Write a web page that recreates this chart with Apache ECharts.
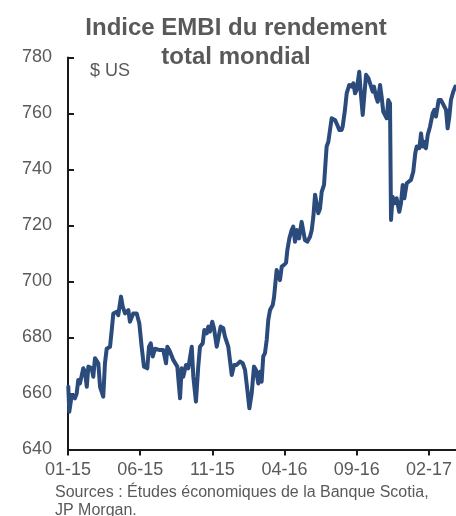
<!DOCTYPE html>
<html>
<head>
<meta charset="utf-8">
<script src="https://cdn.jsdelivr.net/npm/echarts@6/dist/echarts.min.js"></script>
<style>
html,body{margin:0;padding:0;background:#fff;}
#chart{width:456px;height:516px;}
</style>
</head>
<body>
<div id="chart"></div>
<script>
// x: months elapsed since January 2015 (0 = 01-15)
const months = [0.02,0.09,0.26,0.48,0.60,0.71,0.83,1.06,1.18,1.30,1.41,1.64,1.75,1.87,1.99,2.10,2.22,2.44,2.56,2.68,2.91,3.03,3.14,3.37,3.48,3.67,3.79,3.95,4.18,4.29,4.52,4.76,4.94,5.10,5.26,5.49,5.61,5.73,5.87,6.02,6.37,6.60,6.79,6.88,7.06,7.29,7.41,7.57,7.76,7.87,7.98,8.17,8.33,8.57,8.68,8.86,9.02,9.14,9.33,9.44,9.61,9.72,9.83,9.99,10.11,10.30,10.41,10.57,10.75,10.87,11.10,11.34,11.50,11.68,11.91,12.10,12.26,12.42,12.56,12.72,12.88,13.02,13.18,13.30,13.41,13.52,13.64,13.76,13.87,13.99,14.18,14.27,14.40,14.45,14.56,14.68,14.80,14.96,15.10,15.19,15.33,15.49,15.60,15.72,15.84,16.00,16.18,16.30,16.41,16.57,16.76,16.88,16.99,17.11,17.22,17.33,17.45,17.57,17.73,17.91,18.03,18.14,18.26,18.49,18.65,18.79,18.95,19.02,19.18,19.30,19.48,19.65,19.76,19.88,19.99,20.10,20.17,20.27,20.41,20.50,20.64,20.80,20.91,21.10,21.19,21.33,21.45,21.61,21.72,21.83,21.95,22.07,22.18,22.30,22.37,22.48,22.59,22.76,22.94,23.06,23.18,23.29,23.46,23.59,23.75,23.91,24.05,24.15,24.33,24.45,24.56,24.67,24.79,24.91,25.07,25.26,25.37,25.48,25.67,25.83,25.95,26.06,26.18,26.29,26.41,26.52,26.68,26.82];
const values = [662.4,653.5,659.5,658.3,660,664.8,663.6,669,667.8,662.4,669.6,669,666,672.6,673.2,670.8,662.4,658.9,670.8,676,676.7,682.7,688.6,689.2,688,694.6,691,688.6,689.8,685.6,688.6,688.6,685,676.7,669.6,669,676.7,677.9,673.2,676,675.5,675.5,670.8,676.7,675,672,672.6,669.6,658.3,669,666,670.2,669,676.7,666,657.1,669.6,676.7,677.9,682.7,681.5,683.9,682.1,685.6,683.3,676.7,676,683.9,683.3,680.3,676.7,666.6,670.2,670.2,671.4,670.8,668.4,661.3,654.7,660,669.6,668.4,663.6,667.8,664.2,673.2,674.4,679.1,686.3,689.8,691.6,694.4,694.6,704.1,704.7,700.5,705.3,705.9,706.7,711.2,715.4,718.4,719.6,714.2,718.4,715.4,721.3,722,714.8,714.2,716,718.4,723.1,731,731.5,724.4,726,732,734.5,748.2,749.9,750.5,758.3,757.7,755.9,754.1,754.1,755.3,761.3,767.2,770.2,769.6,770.8,767.2,768.4,767.8,774.9,767.8,759.5,760.1,773.8,772.6,773.2,767.8,769.6,766,764.2,770.2,766,760.7,760,758.3,764.8,763.6,722,730.3,727.9,729.7,724.9,727.9,734.5,729.7,735.1,734.5,736.3,739.2,745.8,748.2,747.6,752.9,748.2,749.9,747.6,752.3,755.3,760.1,761.3,758.9,764.8,764.8,763.6,764.2,761.3,754.7,758.9,764.8,767.8,769.6];
const tickLabels = ['01-15','06-15','11-15','04-16','09-16','02-17'];
const titleText = 'Indice EMBI du rendement\ntotal mondial';
const unitText = '$ US';
const sourceText = 'Sources : Études économiques de la Banque Scotia,\nJP Morgan.';

const chart = echarts.init(document.getElementById('chart'), null, {renderer:'canvas'});
const gray = '#595959';
const axisColor = '#1a1a1a';
chart.setOption({
  animation:false,
  backgroundColor:'#ffffff',
  title:{
    text:titleText,
    left:231, top:9, textAlign:'center',
    textStyle:{fontFamily:'Liberation Sans, Arial, sans-serif',fontSize:24,fontWeight:'bold',color:gray,lineHeight:29}
  },
  graphic:[
    {type:'text',left:90,top:62,style:{text:unitText,font:'18px "Liberation Sans", Arial, sans-serif',fill:gray}},
    {type:'text',left:55,top:484,style:{text:sourceText,font:'16px "Liberation Sans", Arial, sans-serif',fill:gray,lineHeight:18}}
  ],
  grid:{left:68,right:0,top:57.5,bottom:66.5,containLabel:false},
  xAxis:{
    type:'value',min:0,max:26.87,interval:5,
    axisLine:{show:true,lineStyle:{color:axisColor,width:2}},
    axisTick:{show:true,inside:false,length:6,lineStyle:{color:axisColor,width:2}},
    splitLine:{show:false},
    axisLabel:{
      color:gray,fontSize:18,fontFamily:'Liberation Sans, Arial, sans-serif',margin:12,
      showMaxLabel:false,
      formatter:function(v){const i=Math.round(v/5);return (Math.abs(v-i*5)<1e-6 && tickLabels[i])?tickLabels[i]:'';}
    }
  },
  yAxis:{
    type:'value',min:640,max:780,interval:20,
    axisLine:{show:true,onZero:false,lineStyle:{color:axisColor,width:2}},
    axisTick:{show:true,inside:true,length:6,lineStyle:{color:axisColor,width:2}},
    splitLine:{show:false},
    axisLabel:{color:gray,fontSize:18,fontFamily:'Liberation Sans, Arial, sans-serif',margin:16}
  },
  series:[{
    type:'line',
    data:months.map((m,i)=>[m,values[i]]),
    showSymbol:false,symbol:'none',
    lineStyle:{color:'#2a4b7c',width:4,join:'round',cap:'round'},
    clip:false
  }]
});
</script>
</body>
</html>
